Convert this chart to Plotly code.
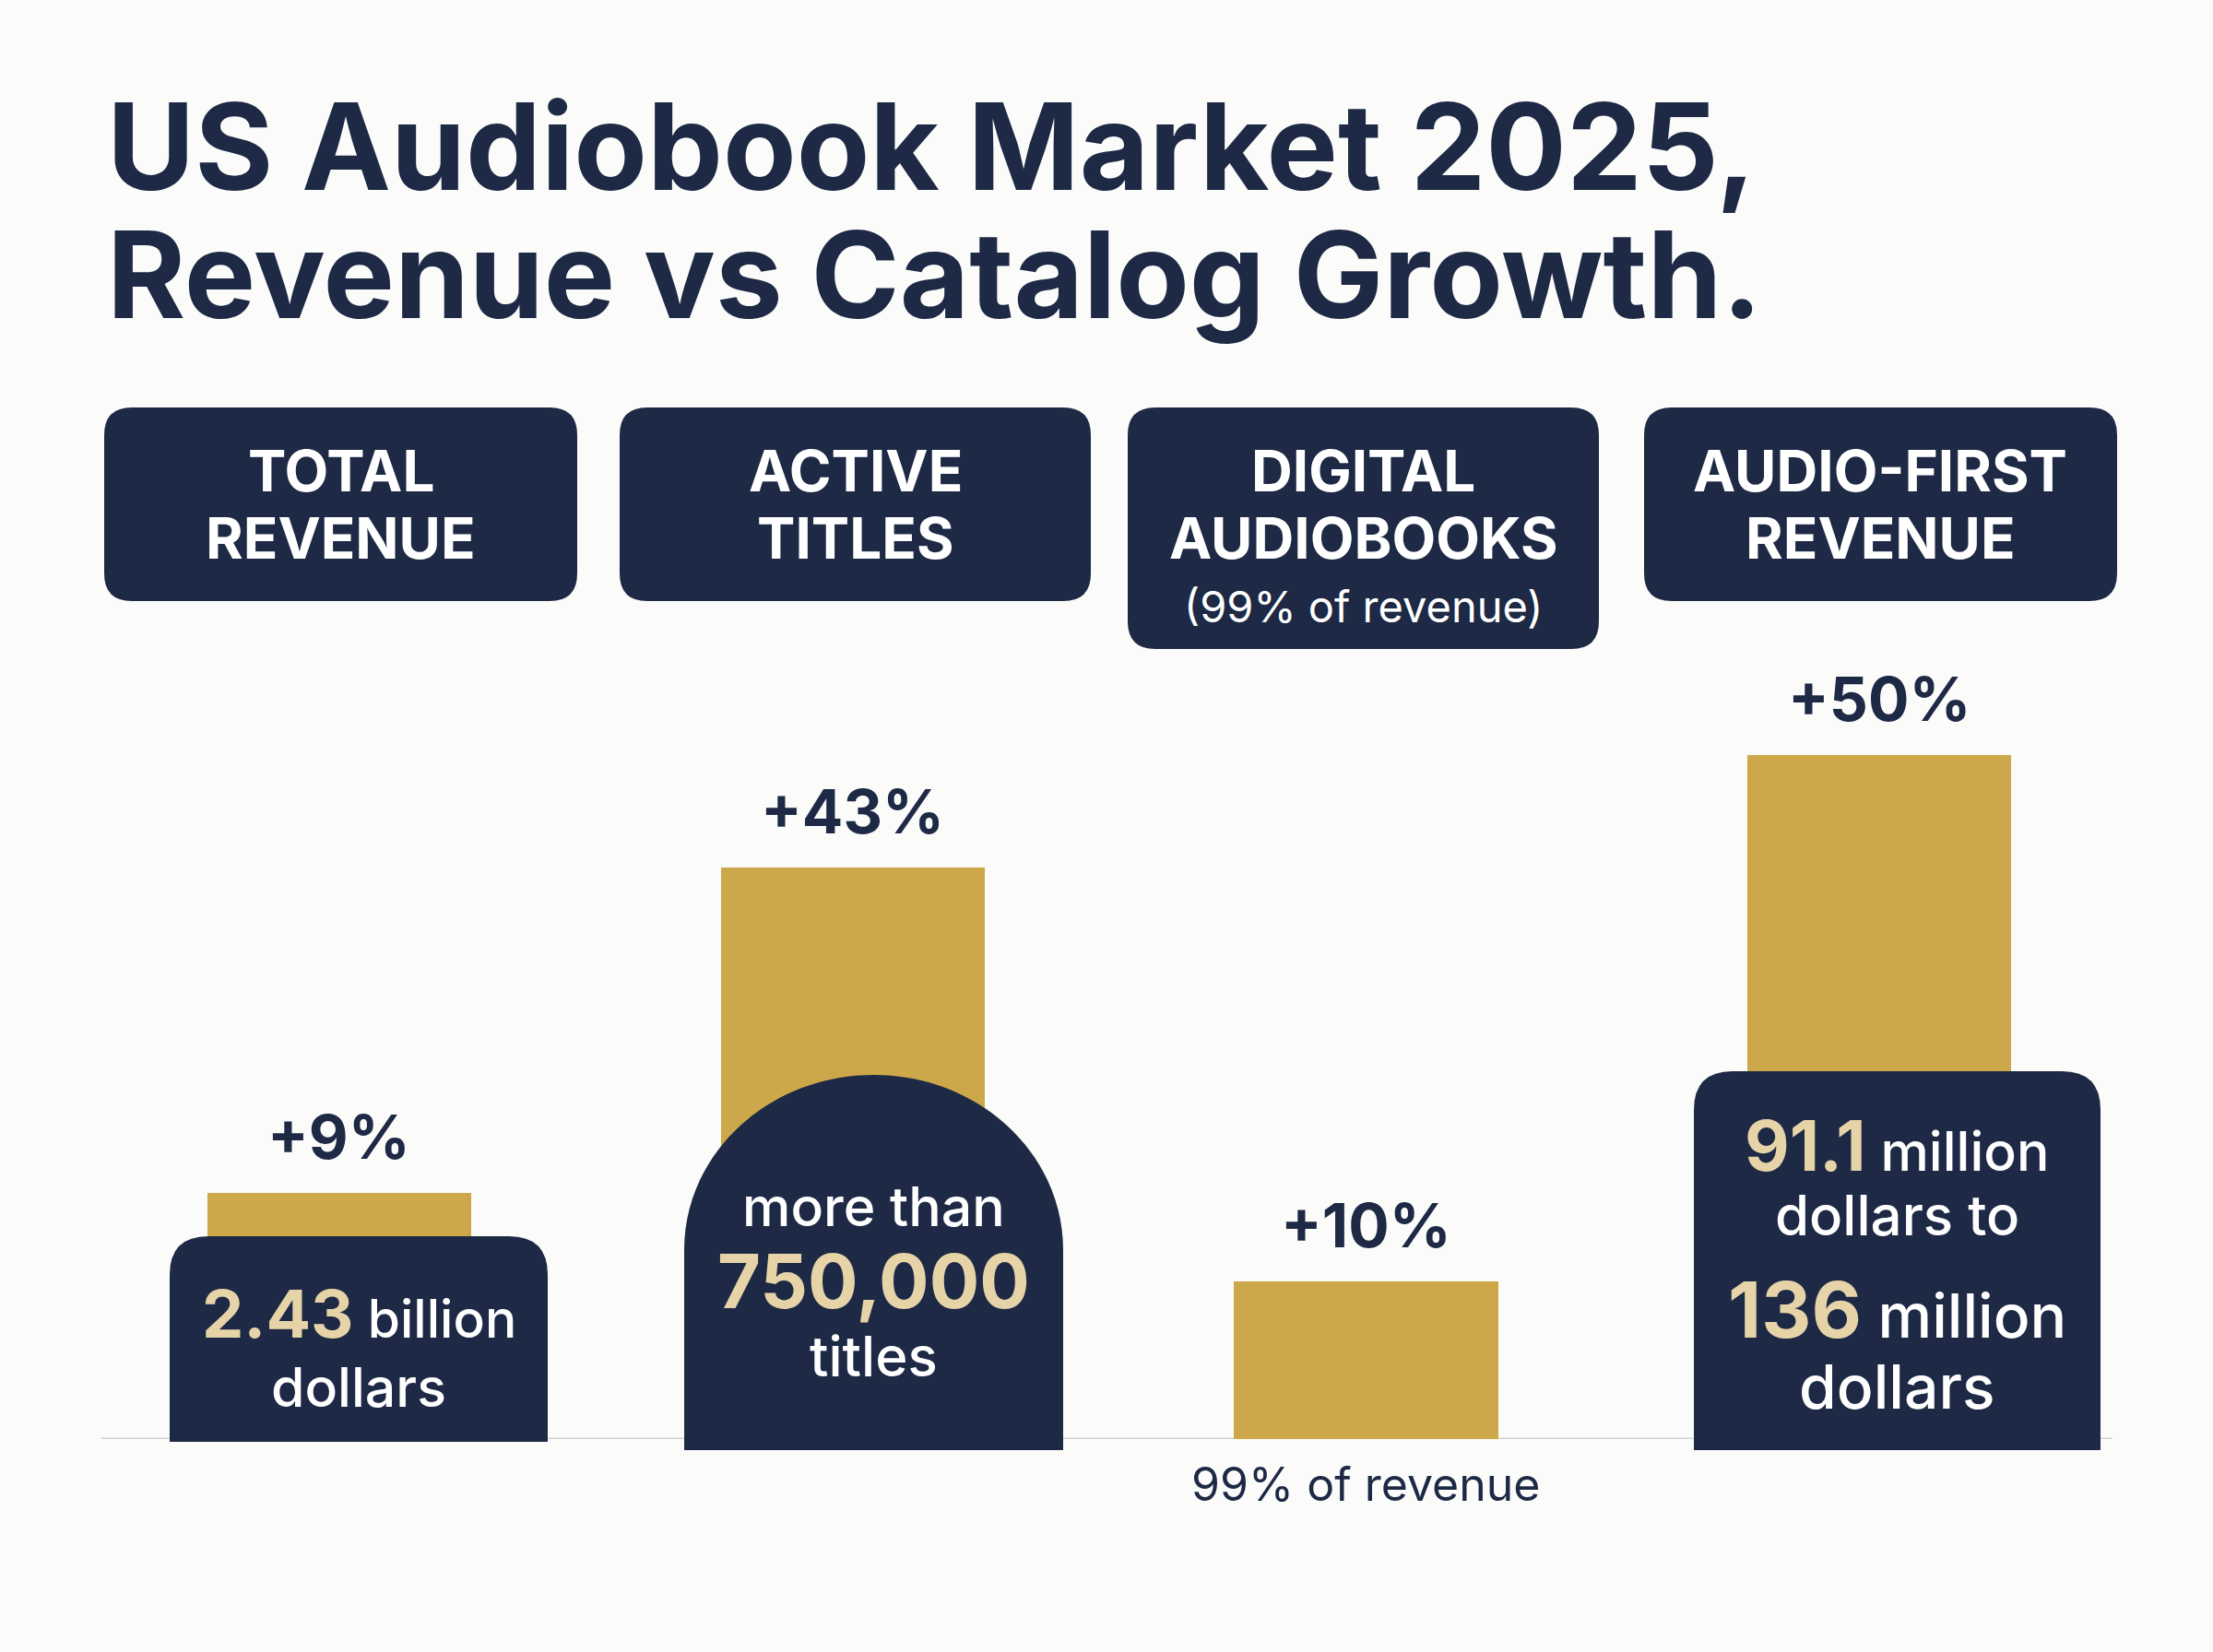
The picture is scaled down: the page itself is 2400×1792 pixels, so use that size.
import plotly.graph_objects as go

W, H = 2400, 1792
NAVY = "#1D2945"
GOLD = "#CCA84A"
CREAM = "#E6D3A8"
BG = "#FBFBF9"
FONT = "Inter"

# --- data ---
categories = ["TOTAL REVENUE", "ACTIVE TITLES", "DIGITAL AUDIOBOOKS", "AUDIO-FIRST REVENUE"]
header_lines = [["TOTAL", "REVENUE"], ["ACTIVE", "TITLES"], ["DIGITAL", "AUDIOBOOKS"], ["AUDIO-FIRST", "REVENUE"]]
header_notes = ["", "", "(99% of revenue)", ""]
growth_labels = ["+9%", "+43%", "+10%", "+50%"]
bar_heights = [36, 83.5, 23, 100]  # visual height index, tallest bar = 100
under_notes = ["", "", "99% of revenue", ""]

callout_lines = [
    [("2.43", " billion"), ("", "dollars")],
    [("", "more than"), ("750,000", ""), ("", "titles")],
    None,
    [("91.1", " million"), ("", "dollars to"), ("136", " million"), ("", "dollars")],
]


def px(x):
    return x / W


def py(y):
    return 1 - y / H


def rounded_path(x0, y0, x1, y1, r, bottom_round=True):
    # pixel coords in, paper coords out
    pts = [f"M {px(x0)},{py(y0 + r)}",
           f"Q {px(x0)},{py(y0)} {px(x0 + r)},{py(y0)}",
           f"L {px(x1 - r)},{py(y0)}",
           f"Q {px(x1)},{py(y0)} {px(x1)},{py(y0 + r)}"]
    if bottom_round:
        pts += [f"L {px(x1)},{py(y1 - r)}",
                f"Q {px(x1)},{py(y1)} {px(x1 - r)},{py(y1)}",
                f"L {px(x0 + r)},{py(y1)}",
                f"Q {px(x0)},{py(y1)} {px(x0)},{py(y1 - r)}"]
    else:
        pts += [f"L {px(x1)},{py(y1)}", f"L {px(x0)},{py(y1)}"]
    return " ".join(pts) + " Z"


def arch_path(x0, top, x1, y1, b):
    a = (x1 - x0) / 2
    cx = (x0 + x1) / 2
    k = 0.5523
    sy = top + b
    return (f"M {px(x0)},{py(y1)} L {px(x0)},{py(sy)} "
            f"C {px(x0)},{py(sy - k * b)} {px(cx - k * a)},{py(top)} {px(cx)},{py(top)} "
            f"C {px(cx + k * a)},{py(top)} {px(x1)},{py(sy - k * b)} {px(x1)},{py(sy)} "
            f"L {px(x1)},{py(y1)} Z")


fig = go.Figure(go.Bar(
    x=categories, y=bar_heights, width=0.514,
    marker=dict(color=GOLD, line=dict(width=0)),
    hoverinfo="skip",
))

shapes = []
annotations = []

# title
for text, yc in [("US Audiobook Market 2025,", 158), ("Revenue vs Catalog Growth.", 298)]:
    annotations.append(dict(x=px(114), y=py(yc), xref="paper", yref="paper", text=f"<b>{text}</b>",
                            showarrow=False, xanchor="left", yanchor="middle",
                            font=dict(family=FONT, size=130, color=NAVY)))

# header boxes
box_x = [(113, 626), (672, 1183), (1223, 1734), (1783, 2296)]
for i, (x0, x1) in enumerate(box_x):
    y1 = 704 if header_notes[i] else 652
    shapes.append(dict(type="path", path=rounded_path(x0, 442, x1, y1, 30), xref="paper", yref="paper",
                       fillcolor=NAVY, line=dict(width=0), layer="above"))
    cx = (x0 + x1) / 2
    for j, line in enumerate(header_lines[i]):
        annotations.append(dict(x=px(cx), y=py(510 + 73 * j), xref="paper", yref="paper", text=f"<b>{line}</b>",
                                showarrow=False, xanchor="center", yanchor="middle",
                                font=dict(family=FONT, size=62, color="white")))
    if header_notes[i]:
        annotations.append(dict(x=px(cx), y=py(657), xref="paper", yref="paper", text=header_notes[i],
                                showarrow=False, xanchor="center", yanchor="middle",
                                font=dict(family=FONT, size=47, color="white")))

# growth labels above bars, note below baseline
for cat, lab, h, note in zip(categories, growth_labels, bar_heights, under_notes):
    annotations.append(dict(x=cat, y=h, xref="x", yref="y", text=f"<b>{lab}</b>", showarrow=False,
                            yanchor="middle", yshift=61, font=dict(family=FONT, size=66, color=NAVY)))
    if note:
        annotations.append(dict(x=cat, y=0, xref="x", yref="y", text=note, showarrow=False,
                                yanchor="middle", yshift=-49, font=dict(family=FONT, size=50, color=NAVY)))

# baseline
shapes.append(dict(type="line", xref="paper", yref="y", x0=px(110), x1=px(2291), y0=0, y1=0,
                   line=dict(color="#D5D5D5", width=3), layer="below"))

# navy callouts
shapes.append(dict(type="path", path=rounded_path(184, 1341, 594, 1564, 42, bottom_round=False),
                   xref="paper", yref="paper", fillcolor=NAVY, line=dict(width=0), layer="above"))
shapes.append(dict(type="path", path=arch_path(742, 1166, 1153, 1573, 190),
                   xref="paper", yref="paper", fillcolor=NAVY, line=dict(width=0), layer="above"))
shapes.append(dict(type="path", path=rounded_path(1837, 1162, 2278, 1573, 42, bottom_round=False),
                   xref="paper", yref="paper", fillcolor=NAVY, line=dict(width=0), layer="above"))

callout_cx = [389, 947, None, 2057]
callout_y = [[1424, 1504], [1308, 1390, 1471], None, [1242, 1318, 1420, 1504]]
big_sizes = [[72, 0], [0, 81, 0], None, [75, 0, 84, 0]]
base_sizes = [[57, 59], [59, 59, 60], None, [59, 60, 66, 66]]
for i, lines in enumerate(callout_lines):
    if lines is None:
        continue
    for j, (big, rest) in enumerate(lines):
        txt = ""
        if big:
            txt += f"<b><span style='color:{CREAM};font-size:{big_sizes[i][j]}px'>{big}</span></b>"
        txt += rest
        annotations.append(dict(x=px(callout_cx[i]), y=py(callout_y[i][j]), xref="paper", yref="paper",
                                text=txt, showarrow=False, xanchor="center", yanchor="middle",
                                font=dict(family=FONT, size=base_sizes[i][j], color="white", weight=500)))

fig.update_layout(
    width=W, height=H,
    margin=dict(l=0, r=0, t=0, b=0),
    paper_bgcolor=BG, plot_bgcolor=BG,
    showlegend=False,
    xaxis=dict(type="category", range=[-0.661, 3.650], visible=False, domain=[0, 1]),
    yaxis=dict(range=[0, 100], domain=[py(1561), py(819)], visible=False),
    shapes=shapes,
    annotations=annotations,
    bargap=0,
)

# drop the default page margin so the figure fills the window
fig.write_html("out.html", config={"displayModeBar": False},
               post_script=f"document.body.style.margin='0';document.body.style.background='{BG}';")
